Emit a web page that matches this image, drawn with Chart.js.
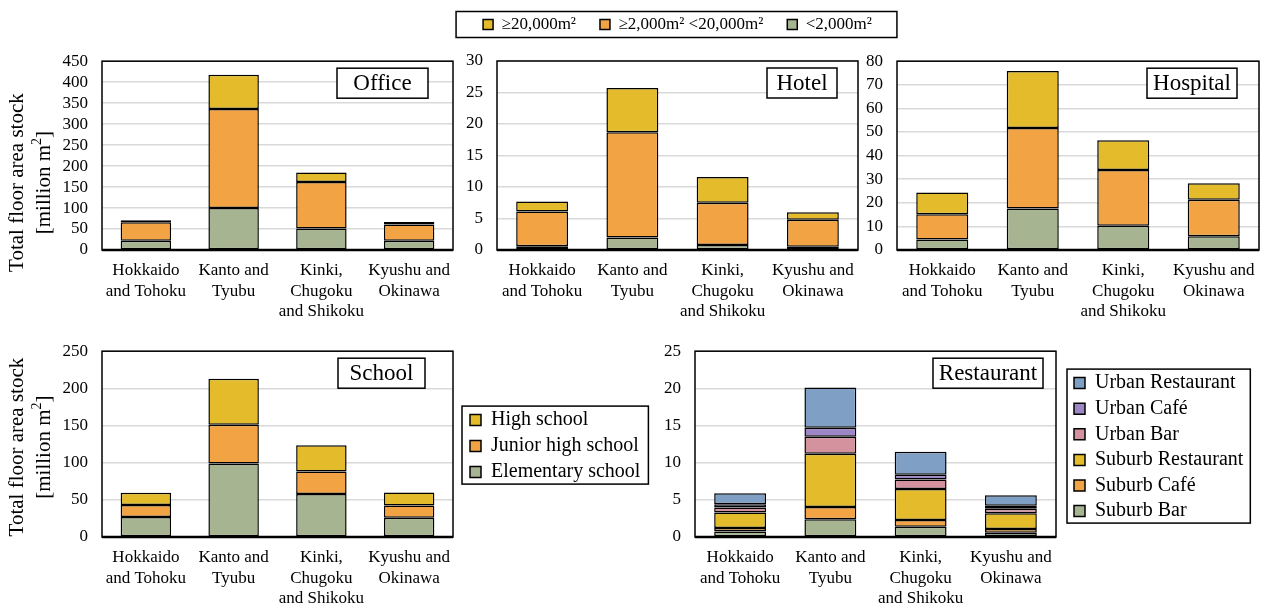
<!DOCTYPE html>
<html>
<head>
<meta charset="utf-8">
<script src="https://cdn.jsdelivr.net/npm/chart.js@4"></script>
<style>
  body { margin: 0; background: #fff; width: 1265px; height: 607px; position: relative; overflow: hidden; }
  canvas { position: absolute; }
</style>
</head>
<body>
<canvas id="office" width="457" height="288" style="left:0;top:37px"></canvas>
<canvas id="hotel" width="476" height="333" style="left:440px;top:-8px"></canvas>
<canvas id="hospital" width="403" height="288" style="left:860px;top:37px"></canvas>
<canvas id="school" width="673" height="285" style="left:0;top:327px"></canvas>
<canvas id="restaurant" width="610" height="285" style="left:655px;top:327px"></canvas>
<script>
// ---- data ----
const regions = [
    ["Hokkaido", "and Tohoku"],
    ["Kanto and", "Tyubu"],
    ["Kinki,", "Chugoku", "and Shikoku"],
    ["Kyushu and", "Okinawa"]
];

// floor size classes, bottom of stack first
const sizeLabels = ["<2,000m²", "≥2,000m² <20,000m²", "≥20,000m²"];

const officeSmall = [22, 100, 51, 22];
const officeMid = [44, 236, 111, 39];
const officeLarge = [5, 82, 23, 6];

const hotelSmall = [0.6, 2.0, 0.8, 0.5];
const hotelMid = [5.5, 16.7, 6.7, 4.3];
const hotelLarge = [1.6, 7.0, 4.1, 1.2];

const hospitalSmall = [4.5, 17.6, 10.3, 5.8];
const hospitalMid = [10.6, 34.1, 23.6, 15.5];
const hospitalLarge = [9.3, 24.1, 12.6, 7.0];

const schoolLabels = ["Elementary school", "Junior high school", "High school"];
const schoolElementary = [27, 99, 58, 26];
const schoolJunior = [16, 52, 30, 16.5];
const schoolHigh = [16.5, 62, 35.5, 17.5];

const restaurantLabels = ["Suburb Bar", "Suburb Café", "Suburb Restaurant", "Urban Bar", "Urban Café", "Urban Restaurant"];
const suburbBar = [0.75, 2.4, 1.38, 0.58];
const suburbCafe = [0.45, 1.65, 0.92, 0.5];
const suburbRestaurant = [2.1, 7.15, 4.15, 2.1];
const urbanBar = [0.67, 2.3, 1.3, 0.63];
const urbanCafe = [0.45, 1.2, 0.63, 0.4];
const urbanRestaurant = [1.48, 5.4, 3.1, 1.4];

// y axis ranges [max, step]
const officeAxis = [450, 50];
const hotelAxis = [30, 5];
const hospitalAxis = [80, 10];
const schoolAxis = [250, 50];
const restaurantAxis = [25, 5];

const threeColors = ["#A6B491", "#F2A344", "#E4BC2B"];
const sixColors = ["#A6B491", "#F2A344", "#E4BC2B", "#D4929F", "#9C86C6", "#7F9FC5"];

const FONT = "'Liberation Serif', 'Times New Roman', serif";

// ---- plugins ----
const frame = {
    id: "frame",
    afterDatasetsDraw(chart) {
        const { ctx, chartArea: a } = chart;
        ctx.save();
        ctx.strokeStyle = "#000";
        ctx.lineWidth = 1.5;
        ctx.strokeRect(a.left, a.top, a.width, a.height);
        ctx.lineWidth = 2.4;
        ctx.beginPath();
        ctx.moveTo(a.left, a.bottom);
        ctx.lineTo(a.right, a.bottom);
        ctx.stroke();
        ctx.restore();
    }
};

const panelTitle = {
    id: "panelTitle",
    afterDatasetsDraw(chart, args, opts) {
        const { ctx, chartArea: a } = chart;
        const x = a.right - opts.right - opts.width;
        const y = a.top + 7;
        ctx.save();
        ctx.fillStyle = "#fff";
        ctx.fillRect(x, y, opts.width, 30);
        ctx.strokeStyle = "#000";
        ctx.lineWidth = 1.5;
        ctx.strokeRect(x, y, opts.width, 30);
        ctx.fillStyle = "#000";
        ctx.font = "23px " + FONT;
        ctx.textAlign = "center";
        ctx.textBaseline = "middle";
        ctx.fillText(opts.text, x + opts.width / 2, y + 16);
        ctx.restore();
    }
};

const axisTitle = {
    id: "axisTitle",
    afterDraw(chart, args, opts) {
        if (!opts.show) return;
        const { ctx, chartArea: a } = chart;
        const cy = (a.top + a.bottom) / 2 + opts.dy;
        const big = "21px " + FONT, small = "14px " + FONT;
        ctx.save();
        ctx.fillStyle = "#000";
        ctx.textBaseline = "middle";

        ctx.save();
        ctx.translate(17, cy);
        ctx.rotate(-Math.PI / 2);
        ctx.font = big;
        ctx.textAlign = "center";
        ctx.fillText("Total floor area stock", 0, 0);
        ctx.restore();

        ctx.save();
        ctx.translate(44, cy);
        ctx.rotate(-Math.PI / 2);
        ctx.textAlign = "left";
        ctx.font = big;
        const w1 = ctx.measureText("[million m").width;
        const w3 = ctx.measureText("]").width;
        ctx.font = small;
        const w2 = ctx.measureText("2").width;
        let x = -(w1 + w2 + w3) / 2;
        ctx.font = big;
        ctx.fillText("[million m", x, 0);
        x += w1;
        ctx.font = small;
        ctx.fillText("2", x, -7);
        x += w2;
        ctx.font = big;
        ctx.fillText("]", x, 0);
        ctx.restore();

        ctx.restore();
    }
};

const legendTweak = {
    id: "legendTweak",
    beforeInit(chart, args, opts) {
        const lg = chart.legend;
        if (!lg) return;
        const fit = lg.fit;
        lg.fit = function () {
            if (opts.maxW) this.maxWidth = opts.maxW;
            fit.call(this);
            if (opts.w) this.width = opts.w;
            if (opts.h) this.height = opts.h;
        };
    },
    afterLayout(chart, args, opts) {
        const lg = chart.legend;
        if (!lg) return;
        const dx = opts.dx || 0, dy = opts.dy || 0, g = opts.grow || 0;
        lg.left += dx - g; lg.right += dx + g;
        lg.width = lg.right - lg.left;
        lg.top += dy; lg.bottom += dy;
    },
    afterDraw(chart, args, opts) {
        const lg = chart.legend;
        if (!lg || !lg.legendHitBoxes || !lg.legendHitBoxes.length) return;
        const hb = lg.legendHitBoxes;
        const l = Math.min(...hb.map(h => h.left)) - opts.ml;
        const r = Math.max(...hb.map(h => h.left + h.width)) + opts.mr;
        const t = Math.min(...hb.map(h => h.top)) - opts.mt;
        const b = Math.max(...hb.map(h => h.top + h.height)) + opts.mb;
        const ctx = chart.ctx;
        ctx.save();
        ctx.strokeStyle = "#000";
        ctx.lineWidth = 1.5;
        ctx.strokeRect(l, t, r - l, b - t);
        ctx.restore();
    }
};

function stackedBar(id, o) {
    const datasets = o.series.map((data, i) => ({
        label: o.labels[i],
        data: data,
        backgroundColor: o.colors[i],
        borderColor: "#000",
        borderWidth: 1.5,
        borderSkipped: false,
        barPercentage: 0.575,
        categoryPercentage: 1
    }));

    const legend = o.legend ? {
        display: true,
        position: o.legend.position,
        fullSize: false,
        reverse: true,
        labels: {
            color: "#000",
            font: { family: FONT, size: o.legend.size },
            boxWidth: o.legend.box,
            boxHeight: o.legend.box,
            padding: o.legend.padding
        }
    } : { display: false };

    return new Chart(document.getElementById(id), {
        type: "bar",
        data: { labels: regions, datasets },
        options: {
            responsive: false,
            animation: false,
            layout: { padding: o.padding },
            plugins: {
                legend: legend,
                tooltip: { enabled: false },
                panelTitle: o.title,
                axisTitle: o.axisTitle || { show: false },
                legendTweak: o.tweak || {}
            },
            scales: {
                x: {
                    stacked: true,
                    grid: { display: false },
                    border: { display: false },
                    ticks: {
                        color: "#000",
                        font: { family: FONT, size: 17, lineHeight: 1.22 },
                        padding: 2,
                        maxRotation: 0,
                        autoSkip: false
                    },
                    afterFit: s => { s.height = 75; }
                },
                y: {
                    stacked: true,
                    min: 0,
                    max: o.axis[0],
                    grid: { color: "#d9d9d9", lineWidth: 1.5, drawTicks: false },
                    border: { display: false },
                    ticks: {
                        stepSize: o.axis[1],
                        autoSkip: false,
                        color: "#000",
                        font: { family: FONT, size: 17 },
                        padding: 14
                    },
                    afterFit: s => { s.width = o.yWidth; }
                }
            }
        },
        plugins: [frame, panelTitle, axisTitle, legendTweak]
    });
}

stackedBar("office", {
    series: [officeSmall, officeMid, officeLarge],
    labels: sizeLabels,
    colors: threeColors,
    axis: officeAxis,
    yWidth: 102,
    padding: { top: 24, right: 4, bottom: 0, left: 0 },
    title: { text: "Office", width: 91, right: 25 },
    axisTitle: { show: true, dy: 27 }
});

stackedBar("hotel", {
    series: [hotelSmall, hotelMid, hotelLarge],
    labels: sizeLabels,
    colors: threeColors,
    axis: hotelAxis,
    yWidth: 57,
    padding: { top: 0, right: 58, bottom: 0, left: 0 },
    title: { text: "Hotel", width: 70, right: 21 },
    legend: { position: "top", size: 17, box: 10, padding: 24 },
    tweak: { h: 69, maxW: 700, grow: 120, ml: 27, mr: 25, mt: 4.5, mb: 4.5 }
});

stackedBar("hospital", {
    series: [hospitalSmall, hospitalMid, hospitalLarge],
    labels: sizeLabels,
    colors: threeColors,
    axis: hospitalAxis,
    yWidth: 37,
    padding: { top: 24, right: 4, bottom: 0, left: 0 },
    title: { text: "Hospital", width: 90, right: 22 }
});

stackedBar("school", {
    series: [schoolElementary, schoolJunior, schoolHigh],
    labels: schoolLabels,
    colors: threeColors,
    axis: schoolAxis,
    yWidth: 102,
    padding: { top: 24, right: 0, bottom: 0, left: 0 },
    title: { text: "School", width: 87, right: 28 },
    axisTitle: { show: true, dy: 3 },
    legend: { position: "right", size: 20, box: 11, padding: 6 },
    tweak: { w: 220, dx: 11, dy: 2, ml: 8, mr: 8, mt: 4, mb: 2 }
});

stackedBar("restaurant", {
    series: [suburbBar, suburbCafe, suburbRestaurant, urbanBar, urbanCafe, urbanRestaurant],
    labels: restaurantLabels,
    colors: sixColors,
    axis: restaurantAxis,
    yWidth: 40,
    padding: { top: 24, right: 0, bottom: 0, left: 0 },
    title: { text: "Restaurant", width: 110, right: 13 },
    legend: { position: "right", size: 20, box: 11, padding: 5.6 },
    tweak: { w: 209, dx: 12.4, dy: 3, ml: 7, mr: 7, mt: 4, mb: 2 }
});
</script>
</body>
</html>
